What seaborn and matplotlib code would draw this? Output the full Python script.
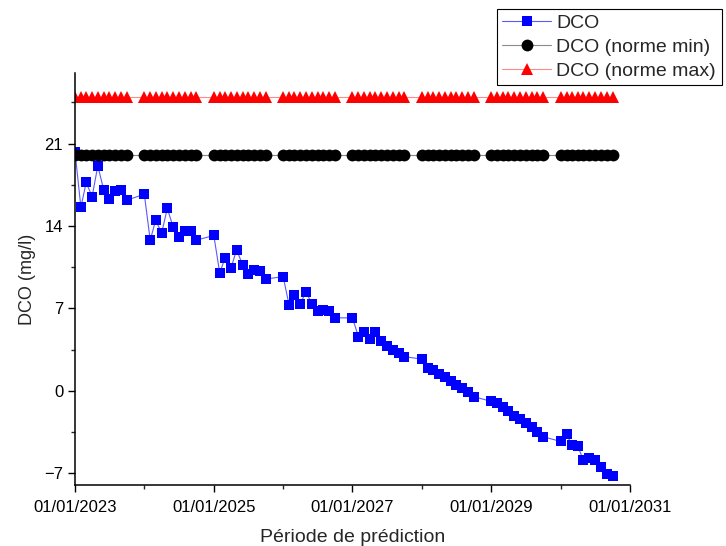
import matplotlib
matplotlib.use("Agg")
import matplotlib.pyplot as plt
import matplotlib.dates as mdates
import numpy as np
import pandas as pd
import seaborn as sns

# Sampling: first day of January..October of each year 2023-2030
years = list(range(2023, 2031))
months = list(range(1, 11))

# Predicted DCO (mg/l), one row per year, Jan..Oct
dco_2023 = [20.3, 15.6, 17.7, 16.5, 19.1, 17.1, 16.3, 17.0, 17.1, 16.2]
dco_2024 = [16.7, 12.8, 14.5, 13.4, 15.5, 13.9, 13.1, 13.6, 13.6, 12.8]
dco_2025 = [13.2, 10.0, 11.3, 10.4, 12.0, 10.7, 9.9, 10.3, 10.2, 9.5]
dco_2026 = [9.7, 7.3, 8.1, 7.4, 8.4, 7.4, 6.8, 6.9, 6.8, 6.2]
dco_2027 = [6.2, 4.6, 5.0, 4.4, 5.0, 4.2, 3.8, 3.5, 3.2, 2.9]
dco_2028 = [2.7, 1.9, 1.8, 1.4, 1.2, 0.8, 0.5, 0.2, -0.1, -0.5]
dco_2029 = [-0.9, -1.0, -1.4, -1.7, -2.1, -2.4, -2.7, -3.1, -3.5, -3.9]
dco_2030 = [-4.3, -3.7, -4.6, -4.7, -5.9, -5.7, -5.9, -6.5, -7.1, -7.2]

norme_min = 20.0
norme_max = 25.0

series_labels = ["DCO", "DCO (norme min)", "DCO (norme max)"]
x_tick_dates = ["2023-01-01", "2025-01-01", "2027-01-01", "2029-01-01", "2031-01-01"]
x_minor_dates = ["2024-01-01", "2026-01-01", "2028-01-01", "2030-01-01"]
y_ticks = [-7, 0, 7, 14, 21]

dates = pd.to_datetime([f"{y}-{m:02d}-01" for y in years for m in months])
dco = (dco_2023 + dco_2024 + dco_2025 + dco_2026 +
       dco_2027 + dco_2028 + dco_2029 + dco_2030)

df = pd.DataFrame({
    "date": dates,
    "dco": dco,
    "min": [norme_min] * len(dates),
    "max": [norme_max] * len(dates),
})

sns.set_style("ticks")
plt.rcParams["font.family"] = ["Liberation Sans", "DejaVu Sans"]

fig = plt.figure(figsize=(7.26, 5.46), dpi=100)
ax = fig.add_axes([75 / 726, 1 - 485 / 546, 555 / 726, 412 / 546])

styles = [
    ("dco", "#0000ff", "#5a5aff", "s", 7.0),
    ("min", "black", "#8a8a8a", "o", 8.5),
    ("max", "#ff0000", "#ff8a8a", "^", 8.5),
]
for (col, mcol, lcol, mk, ms), lab in zip(styles, series_labels):
    sns.lineplot(data=df, x="date", y=col, ax=ax, color=lcol,
                 marker=mk, markersize=ms, markeredgewidth=0,
                 markerfacecolor=mcol, linewidth=0.8, label=lab)

ax.set_xlim(pd.Timestamp("2023-01-01"), pd.Timestamp("2031-01-01"))
ax.set_ylim(-8, 27)
ax.set_xticks(pd.to_datetime(x_tick_dates))
ax.set_xticks(pd.to_datetime(x_minor_dates), minor=True)
ax.xaxis.set_major_formatter(mdates.DateFormatter("%d/%m/%Y"))
ax.set_yticks(y_ticks)
ax.set_yticks(np.arange(-3.5, 27, 7), minor=True)

ax.tick_params(axis="both", which="major", direction="out", length=5,
               width=1, labelsize=12, colors="black")
ax.tick_params(axis="both", which="minor", direction="out", length=3,
               width=1)
ax.tick_params(axis="x", pad=6)

ax.set_xlabel("Période de prédiction", fontsize=14, labelpad=10)
ax.set_ylabel("DCO (mg/l)", fontsize=13, labelpad=6)

for side in ["top", "right"]:
    ax.spines[side].set_visible(False)
for side in ["left", "bottom"]:
    ax.spines[side].set_linewidth(1.1)
    ax.spines[side].set_color("black")

leg = ax.legend(loc="upper left", bbox_to_anchor=(497 / 726, 1 - 9 / 546),
                bbox_transform=fig.transFigure, fontsize=14, frameon=True,
                fancybox=False, edgecolor="black", framealpha=1,
                handlelength=2.5, numpoints=1, borderpad=0.28,
                labelspacing=0.32, handletextpad=0.28, borderaxespad=0)
leg.get_frame().set_linewidth(0.8)

fig.savefig("out.png", dpi=100)
